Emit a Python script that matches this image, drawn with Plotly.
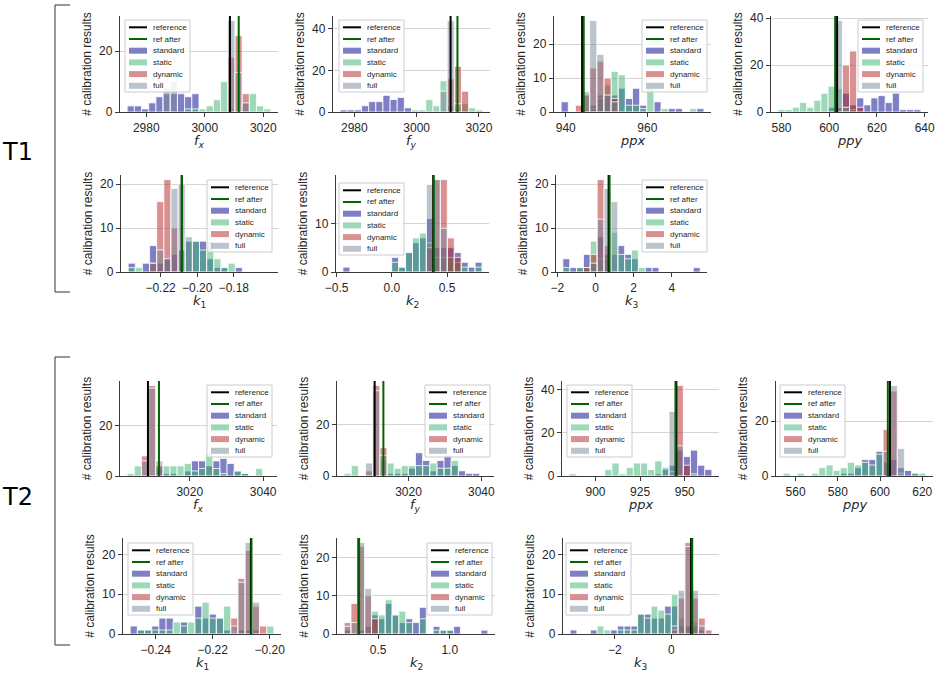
import plotly.graph_objects as go

# first bin centre and bin width, then counts for each calibration method
# reference values: [reference, ref after]

# ---------------- T1 ----------------
T1_FX_BIN = [2974.7, 2.455]
T1_FX_STANDARD = [2, 2, 1, 3, 5, 6, 6, 6, 5, 6, 0, 0, 0, 0, 0, 0, 0, 0, 0, 0]
T1_FX_STATIC = [0, 0, 0, 0, 0, 0, 0, 0, 1, 1, 1, 2, 4, 10, 1, 0, 3, 6, 2, 1]
T1_FX_DYNAMIC = [0, 0, 0, 0, 0, 0, 0, 0, 0, 0, 0, 0, 0, 0, 18, 25, 6, 0, 0, 0]
T1_FX_FULL = [0, 0, 0, 0, 0, 8, 10, 0, 0, 0, 0, 0, 0, 0, 30, 13, 3, 0, 0, 0]
T1_FX_REF = [3008.6, 3011.6]
T1_FX_TICKS = [2980, 3000, 3020]

T1_FY_BIN = [2976.6, 2.29]
T1_FY_STANDARD = [1, 1, 1, 3, 5, 5, 8, 6, 7, 2, 0, 0, 0, 0, 0, 0, 0, 0, 0, 0]
T1_FY_STATIC = [0, 0, 0, 0, 0, 0, 0, 0, 0, 0, 1, 1, 6, 3, 15, 3, 2, 4, 2, 1]
T1_FY_DYNAMIC = [0, 0, 0, 0, 0, 0, 0, 0, 0, 0, 0, 0, 0, 0, 0, 16, 22, 10, 0, 0]
T1_FY_FULL = [0, 0, 0, 0, 0, 0, 0, 0, 0, 0, 0, 0, 0, 0, 10, 44, 4, 0, 0, 0]
T1_FY_REF = [3010.9, 3013.1]
T1_FY_TICKS = [2980, 3000, 3020]

T1_PPX_BIN = [939.74, 1.75]
T1_PPX_STANDARD = [3, 0, 0, 0, 2, 5, 5, 5, 7, 4, 7, 2, 0, 3, 0, 1, 1, 0, 0, 1]
T1_PPX_STATIC = [0, 0, 0, 5, 1, 4, 8, 12, 11, 2, 2, 1, 7, 0, 1, 0, 0, 0, 1, 0]
T1_PPX_DYNAMIC = [0, 0, 2, 5, 13, 15, 10, 4, 0, 0, 0, 0, 0, 0, 0, 0, 0, 0, 0, 0]
T1_PPX_FULL = [0, 0, 0, 6, 27, 17, 5, 3, 0, 0, 0, 0, 0, 0, 0, 0, 0, 0, 0, 0]
T1_PPX_REF = [944.0, 944.4]
T1_PPX_TICKS = [940, 960]

T1_PPY_BIN = [580.1, 2.99]
T1_PPY_STANDARD = [0, 0, 0, 0, 0, 0, 0, 2, 2, 8, 3, 6, 3, 6, 7, 4, 8, 1, 1, 1]
T1_PPY_STATIC = [1, 1, 2, 4, 2, 5, 8, 11, 10, 2, 1, 0, 0, 0, 0, 0, 0, 0, 0, 0]
T1_PPY_DYNAMIC = [0, 0, 0, 0, 0, 0, 0, 0, 2, 20, 26, 2, 0, 0, 0, 0, 0, 0, 0, 0]
T1_PPY_FULL = [0, 0, 0, 0, 0, 0, 0, 0, 39, 2, 0, 0, 0, 0, 0, 0, 0, 0, 0, 0]
T1_PPY_REF = [603.3, 602.5]
T1_PPY_TICKS = [580, 600, 620, 640]

T1_K1_BIN = [-0.2358, 0.0039]
T1_K1_STANDARD = [2, 0, 2, 6, 2, 3, 4, 5, 7, 7, 7, 3, 1, 1, 0, 1, 0, 0, 0, 0]
T1_K1_STATIC = [1, 1, 0, 0, 0, 0, 0, 5, 7, 7, 5, 7, 3, 1, 2, 0, 0, 0, 0, 0]
T1_K1_DYNAMIC = [0, 0, 0, 2, 16, 21, 10, 0, 0, 0, 0, 0, 0, 0, 0, 0, 0, 0, 0, 0]
T1_K1_FULL = [0, 0, 0, 2, 5, 3, 19, 20, 8, 0, 0, 0, 0, 0, 0, 0, 0, 0, 0, 0]
T1_K1_REF = [-0.2085, -0.2083]
T1_K1_TICKS = [-0.22, -0.20, -0.18]

T1_K2_BIN = [-0.411, 0.063]
T1_K2_STANDARD = [1, 0, 0, 0, 0, 0, 0, 3, 1, 4, 6, 7, 11, 5, 5, 5, 4, 2, 1, 2]
T1_K2_STATIC = [0, 0, 0, 0, 0, 0, 0, 2, 1, 4, 7, 8, 6, 3, 3, 3, 2, 1, 0, 1]
T1_K2_DYNAMIC = [0, 0, 0, 0, 0, 0, 0, 0, 0, 0, 0, 0, 5, 19, 19, 7, 3, 0, 0, 0]
T1_K2_FULL = [0, 0, 0, 0, 0, 0, 0, 0, 0, 0, 0, 0, 18, 19, 9, 0, 0, 0, 0, 0]
T1_K2_REF = [0.375, 0.38]
T1_K2_TICKS = [-0.5, 0.0, 0.5]

T1_K3_BIN = [-1.53, 0.36]
T1_K3_STANDARD = [3, 1, 1, 4, 2, 8, 4, 4, 6, 4, 3, 0, 1, 1, 0, 0, 0, 0, 0, 1]
T1_K3_STATIC = [1, 0, 1, 1, 7, 3, 3, 9, 4, 3, 5, 1, 0, 0, 0, 0, 0, 0, 0, 0]
T1_K3_DYNAMIC = [0, 0, 0, 1, 4, 21, 6, 0, 0, 0, 0, 0, 0, 0, 0, 0, 0, 0, 0, 0]
T1_K3_FULL = [0, 0, 0, 0, 2, 12, 19, 16, 0, 0, 0, 0, 0, 0, 0, 0, 0, 0, 0, 0]
T1_K3_REF = [0.69, 0.74]
T1_K3_TICKS = [-2, 0, 2, 4]

# ---------------- T2 ----------------
T2_FX_BIN = [3003.9, 1.945]
T2_FX_STANDARD = [0, 0, 0, 0, 4, 1, 1, 0, 2, 6, 6, 4, 6, 7, 5, 2, 1, 0, 0, 0]
T2_FX_STATIC = [1, 4, 0, 0, 3, 4, 4, 4, 5, 2, 3, 9, 3, 1, 0, 2, 1, 0, 3, 0]
T2_FX_DYNAMIC = [0, 0, 8, 36, 4, 0, 0, 0, 0, 0, 0, 0, 0, 0, 0, 0, 0, 0, 0, 0]
T2_FX_FULL = [0, 0, 6, 35, 6, 0, 0, 0, 0, 0, 0, 0, 0, 0, 0, 0, 0, 0, 0, 0]
T2_FX_REF = [3008.6, 3011.6]
T2_FX_TICKS = [3020, 3040]

T2_FY_BIN = [3003.3, 1.96]
T2_FY_STANDARD = [0, 0, 0, 0, 0, 0, 1, 1, 1, 3, 9, 6, 2, 6, 8, 4, 2, 1, 1, 0]
T2_FY_STATIC = [1, 4, 0, 0, 0, 6, 5, 3, 4, 4, 4, 4, 5, 3, 3, 6, 0, 0, 0, 0]
T2_FY_DYNAMIC = [0, 0, 0, 2, 35, 11, 0, 0, 0, 0, 0, 0, 0, 0, 0, 0, 0, 0, 0, 0]
T2_FY_FULL = [0, 0, 0, 5, 33, 8, 0, 0, 0, 0, 0, 0, 0, 0, 0, 0, 0, 0, 0, 0]
T2_FY_REF = [3010.7, 3013.1]
T2_FY_TICKS = [3020, 3040]

T2_PPX_BIN = [887.2, 4.0]
T2_PPX_STANDARD = [0, 0, 0, 0, 0, 0, 0, 0, 0, 0, 0, 0, 1, 3, 5, 12, 9, 12, 5, 3]
T2_PPX_STATIC = [1, 0, 0, 0, 0, 3, 6, 1, 4, 6, 6, 3, 7, 4, 2, 0, 0, 1, 0, 0]
T2_PPX_DYNAMIC = [0, 0, 0, 0, 0, 0, 0, 0, 0, 0, 0, 0, 0, 0, 0, 42, 5, 0, 0, 0]
T2_PPX_FULL = [0, 0, 0, 0, 0, 0, 0, 0, 0, 0, 0, 0, 0, 0, 30, 14, 0, 0, 0, 0]
T2_PPX_REF = [945.3, 944.8]
T2_PPX_TICKS = [900, 925, 950]

T2_PPY_BIN = [555.8, 3.38]
T2_PPY_STANDARD = [0, 0, 0, 0, 0, 0, 0, 0, 1, 1, 3, 6, 6, 9, 5, 6, 3, 2, 1, 0]
T2_PPY_STATIC = [1, 0, 1, 0, 1, 3, 4, 2, 3, 5, 4, 5, 4, 8, 0, 0, 1, 0, 1, 1]
T2_PPY_DYNAMIC = [0, 0, 0, 0, 0, 0, 0, 0, 0, 0, 0, 0, 0, 0, 17, 31, 0, 0, 0, 0]
T2_PPY_FULL = [0, 0, 0, 0, 0, 0, 0, 0, 0, 0, 0, 0, 0, 0, 9, 33, 10, 0, 0, 0]
T2_PPY_REF = [604.7, 603.7]
T2_PPY_TICKS = [560, 580, 600, 620]

T2_K1_BIN = [-0.2477, 0.00252]
T2_K1_STANDARD = [2, 1, 1, 2, 4, 4, 0, 3, 0, 7, 4, 5, 4, 1, 0, 1, 1, 1, 0, 0]
T2_K1_STATIC = [0, 1, 1, 1, 1, 1, 3, 2, 3, 4, 8, 4, 4, 7, 0, 0, 0, 0, 0, 2]
T2_K1_DYNAMIC = [0, 0, 0, 0, 0, 0, 0, 0, 0, 0, 0, 0, 0, 0, 4, 14, 21, 7, 2, 0]
T2_K1_FULL = [0, 0, 0, 0, 0, 0, 0, 0, 0, 0, 0, 0, 0, 0, 2, 13, 23, 8, 0, 0]
T2_K1_REF = [-0.2066, -0.2064]
T2_K1_TICKS = [-0.24, -0.22, -0.20]

T2_K2_BIN = [0.2876, 0.0477]
T2_K2_STANDARD = [1, 0, 1, 2, 5, 4, 8, 5, 3, 4, 3, 7, 0, 2, 1, 1, 2, 0, 0, 0, 1]
T2_K2_STATIC = [0, 0, 0, 0, 6, 5, 9, 5, 6, 3, 0, 4, 0, 1, 1, 1, 0, 0, 0, 0, 0]
T2_K2_DYNAMIC = [3, 8, 23, 10, 4, 0, 0, 0, 0, 0, 0, 0, 0, 0, 0, 0, 0, 0, 0, 0, 0]
T2_K2_FULL = [2, 3, 24, 12, 0, 0, 0, 0, 0, 0, 0, 0, 0, 0, 0, 0, 0, 0, 0, 0, 0]
T2_K2_REF = [0.363, 0.368]
T2_K2_TICKS = [0.5, 1.0]

T2_K3_BIN = [-3.47, 0.2394]
T2_K3_STANDARD = [1, 0, 0, 1, 0, 0, 1, 2, 2, 2, 5, 5, 4, 4, 7, 7, 2, 2, 2, 1, 0]
T2_K3_STATIC = [0, 0, 0, 0, 2, 1, 0, 1, 1, 1, 5, 4, 7, 6, 5, 10, 4, 0, 3, 0, 0]
T2_K3_DYNAMIC = [0, 0, 0, 0, 0, 0, 0, 0, 0, 0, 0, 0, 0, 0, 0, 1, 9, 23, 9, 4, 1]
T2_K3_FULL = [0, 0, 0, 0, 0, 0, 0, 0, 0, 0, 0, 0, 0, 0, 0, 2, 11, 22, 11, 2, 0]
T2_K3_REF = [0.70, 0.74]
T2_K3_TICKS = [-2, 0]

METHODS = ["standard", "static", "dynamic", "full"]
REF_NAMES = ["reference", "ref after"]
COLORS = {
    "standard": "rgba(0,0,139,0.5)",
    "static": "rgba(60,179,113,0.5)",
    "dynamic": "rgba(178,34,34,0.5)",
    "full": "rgba(119,136,153,0.5)",
    "reference": "black",
    "ref after": "darkgreen",
}

FX = "<i>f</i><sub><i>x</i></sub>"
FY = "<i>f</i><sub><i>y</i></sub>"

# (bins, counts, refs, x ticks, x label, x format, y dtick,
#  box px [x0, x1, top, bottom], legend box px [x, y, anchor])
PANELS = [
    (T1_FX_BIN, [T1_FX_STANDARD, T1_FX_STATIC, T1_FX_DYNAMIC, T1_FX_FULL], T1_FX_REF, T1_FX_TICKS,
     FX, "", 20, [120, 278, 16, 112], [125, 20, "left"]),
    (T1_FY_BIN, [T1_FY_STANDARD, T1_FY_STATIC, T1_FY_DYNAMIC, T1_FY_FULL], T1_FY_REF, T1_FY_TICKS,
     FY, "", 20, [333, 490, 16, 112], [339, 20, "left"]),
    (T1_PPX_BIN, [T1_PPX_STANDARD, T1_PPX_STATIC, T1_PPX_DYNAMIC, T1_PPX_FULL], T1_PPX_REF, T1_PPX_TICKS,
     "<i>ppx</i>", "", 10, [554, 711, 16, 112], [707, 20, "right"]),
    (T1_PPY_BIN, [T1_PPY_STANDARD, T1_PPY_STATIC, T1_PPY_DYNAMIC, T1_PPY_FULL], T1_PPY_REF, T1_PPY_TICKS,
     "<i>ppy</i>", "", 20, [771, 928, 16, 112], [923, 20, "right"]),
    (T1_K1_BIN, [T1_K1_STANDARD, T1_K1_STATIC, T1_K1_DYNAMIC, T1_K1_FULL], T1_K1_REF, T1_K1_TICKS,
     "<i>k</i><sub>1</sub>", ".2f", 10, [121, 278, 175, 272], [272, 180, "right"]),
    (T1_K2_BIN, [T1_K2_STANDARD, T1_K2_STATIC, T1_K2_DYNAMIC, T1_K2_FULL], T1_K2_REF, T1_K2_TICKS,
     "<i>k</i><sub>2</sub>", ".1f", 10, [336, 489, 175, 272], [339, 183, "left"]),
    (T1_K3_BIN, [T1_K3_STANDARD, T1_K3_STATIC, T1_K3_DYNAMIC, T1_K3_FULL], T1_K3_REF, T1_K3_TICKS,
     "<i>k</i><sub>3</sub>", "", 10, [556, 707, 175, 272], [707, 180, "right"]),
    (T2_FX_BIN, [T2_FX_STANDARD, T2_FX_STATIC, T2_FX_DYNAMIC, T2_FX_FULL], T2_FX_REF, T2_FX_TICKS,
     FX, "", 20, [120, 277, 381, 476], [272, 385, "right"]),
    (T2_FY_BIN, [T2_FY_STANDARD, T2_FY_STATIC, T2_FY_DYNAMIC, T2_FY_FULL], T2_FY_REF, T2_FY_TICKS,
     FY, "", 20, [337, 494, 381, 476], [490, 385, "right"]),
    (T2_PPX_BIN, [T2_PPX_STANDARD, T2_PPX_STATIC, T2_PPX_DYNAMIC, T2_PPX_FULL], T2_PPX_REF, T2_PPX_TICKS,
     "<i>ppx</i>", "", 20, [562, 719, 381, 476], [567, 385, "left"]),
    (T2_PPY_BIN, [T2_PPY_STANDARD, T2_PPY_STATIC, T2_PPY_DYNAMIC, T2_PPY_FULL], T2_PPY_REF, T2_PPY_TICKS,
     "<i>ppy</i>", "", 20, [776, 933, 381, 476], [780, 385, "left"]),
    (T2_K1_BIN, [T2_K1_STANDARD, T2_K1_STATIC, T2_K1_DYNAMIC, T2_K1_FULL], T2_K1_REF, T2_K1_TICKS,
     "<i>k</i><sub>1</sub>", ".2f", 10, [123, 281, 538, 634], [128, 543, "left"]),
    (T2_K2_BIN, [T2_K2_STANDARD, T2_K2_STATIC, T2_K2_DYNAMIC, T2_K2_FULL], T2_K2_REF, T2_K2_TICKS,
     "<i>k</i><sub>2</sub>", ".1f", 10, [337, 495, 538, 634], [492, 543, "right"]),
    (T2_K3_BIN, [T2_K3_STANDARD, T2_K3_STATIC, T2_K3_DYNAMIC, T2_K3_FULL], T2_K3_REF, T2_K3_TICKS,
     "<i>k</i><sub>3</sub>", "", 10, [563, 719, 538, 634], [566, 543, "left"]),
]

W, H = 942, 681
TXT = "#262626"
SPINE = "#3a3a3a"
FONT = "Liberation Sans, Arial, sans-serif"
LEG_W, LEG_H, LEG_ROW = 65, 72, 11.7


def px(x):
    return x / W


def py(y):
    return 1 - y / H


fig = go.Figure()
layout = {}
shapes = []
annotations = []

for i, (bins, counts, refs, xticks, xlabel, xfmt, ydt, box, leg) in enumerate(PANELS, start=1):
    sfx = "" if i == 1 else str(i)
    xa, ya = "x" + sfx, "y" + sfx
    c0, w = bins
    n = len(counts[0])
    centres = [c0 + k * w for k in range(n)]
    ytop = 1.05 * max(max(c) for c in counts)

    for name, v in zip(REF_NAMES, refs):
        fig.add_trace(go.Scatter(
            x=[v, v], y=[0, ytop], mode="lines", name=name,
            line=dict(color=COLORS[name], width=2), xaxis=xa, yaxis=ya,
            hoverinfo="skip", showlegend=False))
    for name, c in zip(METHODS, counts):
        fig.add_trace(go.Bar(
            x=centres, y=[v if v else None for v in c], width=w, name=name,
            marker=dict(color=COLORS[name], line=dict(color="white", width=0.8)),
            xaxis=xa, yaxis=ya, showlegend=False))

    lo, hi = c0 - w / 2, c0 + (n - 0.5) * w
    pad = 0.05 * (hi - lo)
    x0, x1, top, bottom = box
    layout["xaxis" + sfx] = dict(
        domain=[px(x0), px(x1)], anchor=ya, range=[lo - pad, hi + pad],
        tickmode="array", tickvals=xticks, tickformat=xfmt, automargin=False,
        showline=True, linecolor=SPINE, linewidth=1.25, showgrid=False, zeroline=False,
        ticks="outside", ticklen=4, tickcolor=SPINE, tickwidth=1.25,
        tickfont=dict(size=12, color=TXT, family=FONT),
    )
    layout["yaxis" + sfx] = dict(
        domain=[py(bottom), py(top)], anchor=xa, range=[0, ytop],
        tick0=0, dtick=ydt, automargin=False,
        showline=True, linecolor=SPINE, linewidth=1.25, zeroline=False,
        showgrid=True, gridcolor="#d4d4d4", gridwidth=1,
        ticks="outside", ticklen=4, tickcolor=SPINE, tickwidth=1.25,
        tickfont=dict(size=12, color=TXT, family=FONT),
        title=dict(text="# calibration results", standoff=4,
                   font=dict(size=12, color=TXT, family=FONT)),
    )
    # x label placed just under the tick labels, as matplotlib does
    annotations.append(dict(text=xlabel, x=0.5, y=0, xref=xa + " domain", yref=ya + " domain",
                            xanchor="center", yanchor="top", yshift=-19, showarrow=False,
                            font=dict(size=13, color=TXT, family="DejaVu Sans")))

    # legend box drawn by hand, matplotlib style
    lx, ly, anchor = leg
    if anchor == "right":
        lx -= LEG_W
    shapes.append(dict(type="rect", xref="paper", yref="paper",
                       x0=px(lx), x1=px(lx + LEG_W), y0=py(ly), y1=py(ly + LEG_H),
                       fillcolor="rgba(255,255,255,0.8)", line=dict(color="#cccccc", width=1),
                       layer="above"))
    for r, name in enumerate(REF_NAMES + METHODS):
        yc = ly + 7.3 + r * LEG_ROW
        if name in REF_NAMES:
            shapes.append(dict(type="line", xref="paper", yref="paper",
                               x0=px(lx + 4), x1=px(lx + 22), y0=py(yc), y1=py(yc),
                               line=dict(color=COLORS[name], width=2), layer="above"))
        else:
            shapes.append(dict(type="rect", xref="paper", yref="paper",
                               x0=px(lx + 4), x1=px(lx + 22), y0=py(yc - 3), y1=py(yc + 3),
                               fillcolor=COLORS[name], line=dict(width=0), layer="above"))
        annotations.append(dict(text=name, x=px(lx + 26), y=py(yc), xref="paper", yref="paper",
                                xanchor="left", yanchor="middle", showarrow=False,
                                font=dict(size=8, color=TXT, family=FONT)))

# group brackets and labels
for top, bottom in [(5, 292), (357, 645)]:
    for xs, ys in [((55, 55), (top, bottom)), ((55, 70), (top, top)), ((55, 70), (bottom, bottom))]:
        shapes.append(dict(type="line", xref="paper", yref="paper",
                           x0=px(xs[0]), x1=px(xs[1]), y0=py(ys[0]), y1=py(ys[1]),
                           line=dict(color="#333333", width=1)))

for t, yc in [("T1", 152), ("T2", 497)]:
    annotations.append(dict(text=t, x=0, y=py(yc), xref="paper", yref="paper",
                            xanchor="left", yanchor="middle", showarrow=False,
                            font=dict(size=24, color="black", family="DejaVu Sans")))

fig.update_layout(
    width=W, height=H, margin=dict(l=0, r=0, t=0, b=0, pad=0),
    paper_bgcolor="white", plot_bgcolor="white",
    barmode="overlay", showlegend=False,
    font=dict(family=FONT, color=TXT),
    shapes=shapes, annotations=annotations,
    **layout,
)

# the page body has a default 8px margin; drop it so the figure sits at the window corner
fig.write_html("out.html", config={"displayModeBar": False},
               post_script="document.body.style.margin = '0px';")
